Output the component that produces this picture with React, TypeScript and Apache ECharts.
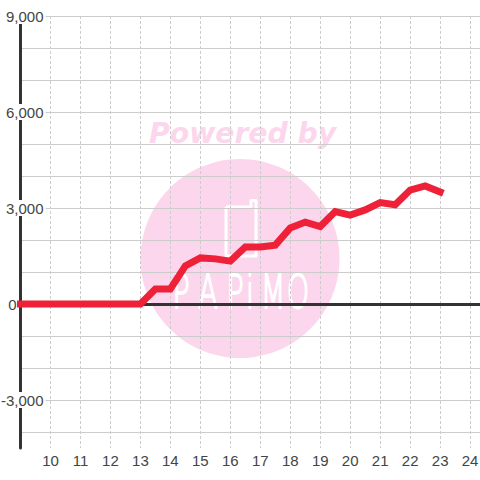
import React, { useEffect, useRef } from "react";
import * as echarts from "echarts";

const xValues = [9, 9.5, 10, 10.5, 11, 11.5, 12, 12.5, 13, 13.5, 14, 14.5, 15, 15.5, 16, 16.5, 17, 17.5, 18, 18.5, 19, 19.5, 20, 20.5, 21, 21.5, 22, 22.5, 23];
const yValues = [0, 0, 0, 0, 0, 0, 0, 0, 0, 470, 470, 1190, 1440, 1410, 1340, 1780, 1780, 1840, 2375, 2560, 2420, 2890, 2780, 2940, 3170, 3100, 3560, 3690, 3500];
const xTicks = [10, 11, 12, 13, 14, 15, 16, 17, 18, 19, 20, 21, 22, 23, 24];
const yGridTicks = [-4000, -3000, -2000, -1000, 0, 1000, 2000, 3000, 4000, 5000, 6000, 7000, 8000, 9000];
const yLabelTicks = [-3000, 0, 3000, 6000, 9000];
const logoLetters = ["P", "A", "P", "i", "M", "O"];
const logoLetterX = [181, 208, 235, 250, 273, 298];

const PINK = "#fcd6ec";
const FONT = "'Liberation Sans', Arial, sans-serif";

const fmt = (v: number) => v.toLocaleString("en-US");

export default function App() {
  const ref = useRef<HTMLDivElement>(null);
  useEffect(() => {
    const chart = echarts.init(ref.current!, undefined, { renderer: "svg", width: 480, height: 480 });
    const baseX = {
      type: "value" as const,
      min: 9,
      max: 24.33,
      interval: 1,
    };
    chart.setOption({
      animation: false,
      backgroundColor: "#fff",
      grid: { left: 20.5, right: 0, top: 16, bottom: 32, outerBoundsMode: "none" },
      graphic: [
        { type: "circle", z: -10, silent: true, shape: { cx: 240, cy: 258.5, r: 99.5 }, style: { fill: PINK } },
        {
          type: "text", z: -10, silent: true, x: 149, y: 120, scaleX: 1.01,
          style: { text: "Powered by", fill: PINK, font: "italic bold 28px 'DejaVu Sans'" },
        },
        {
          type: "polyline", z: -9, silent: true,
          shape: { points: [[226, 207], [251, 207], [251, 200.5], [256, 200.5], [256, 256], [226, 256], [226, 207]] },
          style: { fill: "none", stroke: "#fff", lineWidth: 3, lineJoin: "round" },
        },
        ...logoLetters.map((ch, i) => ({
          type: "text", z: -9, silent: true, x: logoLetterX[i], y: 292, scaleX: 0.62,
          style: {
            text: ch, fill: "#fff", stroke: "#fff", lineWidth: 1.8, align: "center", verticalAlign: "middle",
            font: "200 46px 'DejaVu Sans'",
          },
        })),
      ],
      xAxis: [
        {
          ...baseX,
          position: "bottom",
          axisLine: { show: false, onZero: false },
          axisTick: { show: false, customValues: xTicks },
          axisLabel: { customValues: xTicks, color: "#444", fontSize: 15, fontFamily: FONT, margin: 5, formatter: (v: number) => String(v), hideOverlap: false },
          splitLine: { show: true, lineStyle: { color: "#ccc", width: 1, type: [3, 2] } },
        },
        {
          ...baseX,
          position: "bottom",
          axisLine: { show: true, onZero: true, lineStyle: { color: "#333", width: 3 } },
          axisTick: { show: false },
          axisLabel: { show: false },
          splitLine: { show: false },
        },
      ],
      yAxis: {
        type: "value",
        min: -4500,
        max: 9000,
        interval: 1000,
        axisLine: { show: true, onZero: false, lineStyle: { color: "#333", width: 3 } },
        axisTick: { show: false, customValues: yGridTicks },
        axisLabel: {
          customValues: yLabelTicks,
          margin: -25,
          align: "right",
          hideOverlap: false,
          showMinLabel: true,
          showMaxLabel: true,
          formatter: (v: number) => (v === 0 ? `{zero|${fmt(v)}}` : `{n|${fmt(v)}}`),
          rich: {
            n: { color: "#444", fontSize: 15, fontFamily: FONT, backgroundColor: "#fff", padding: [0, 2, 0, 2], height: 16, lineHeight: 16 },
            zero: { color: "#444", fontSize: 15, fontFamily: FONT, padding: [0, 29, 0, 0], height: 16, lineHeight: 16 },
          },
        },
        splitLine: { show: true, lineStyle: { color: "#ccc", width: 1 } },
      },
      series: [
        {
          type: "line",
          xAxisIndex: 0,
          data: xValues.map((x, i) => [x, yValues[i]]),
          showSymbol: false,
          symbol: "none",
          clip: false,
          z: 20,
          lineStyle: { color: "#ef2138", width: 7, cap: "square", join: "miter" },
        },
      ],
    });
    return () => chart.dispose();
  }, []);
  return <div ref={ref} style={{ position: "absolute", left: 0, top: 0, width: 480, height: 480 }} />;
}
